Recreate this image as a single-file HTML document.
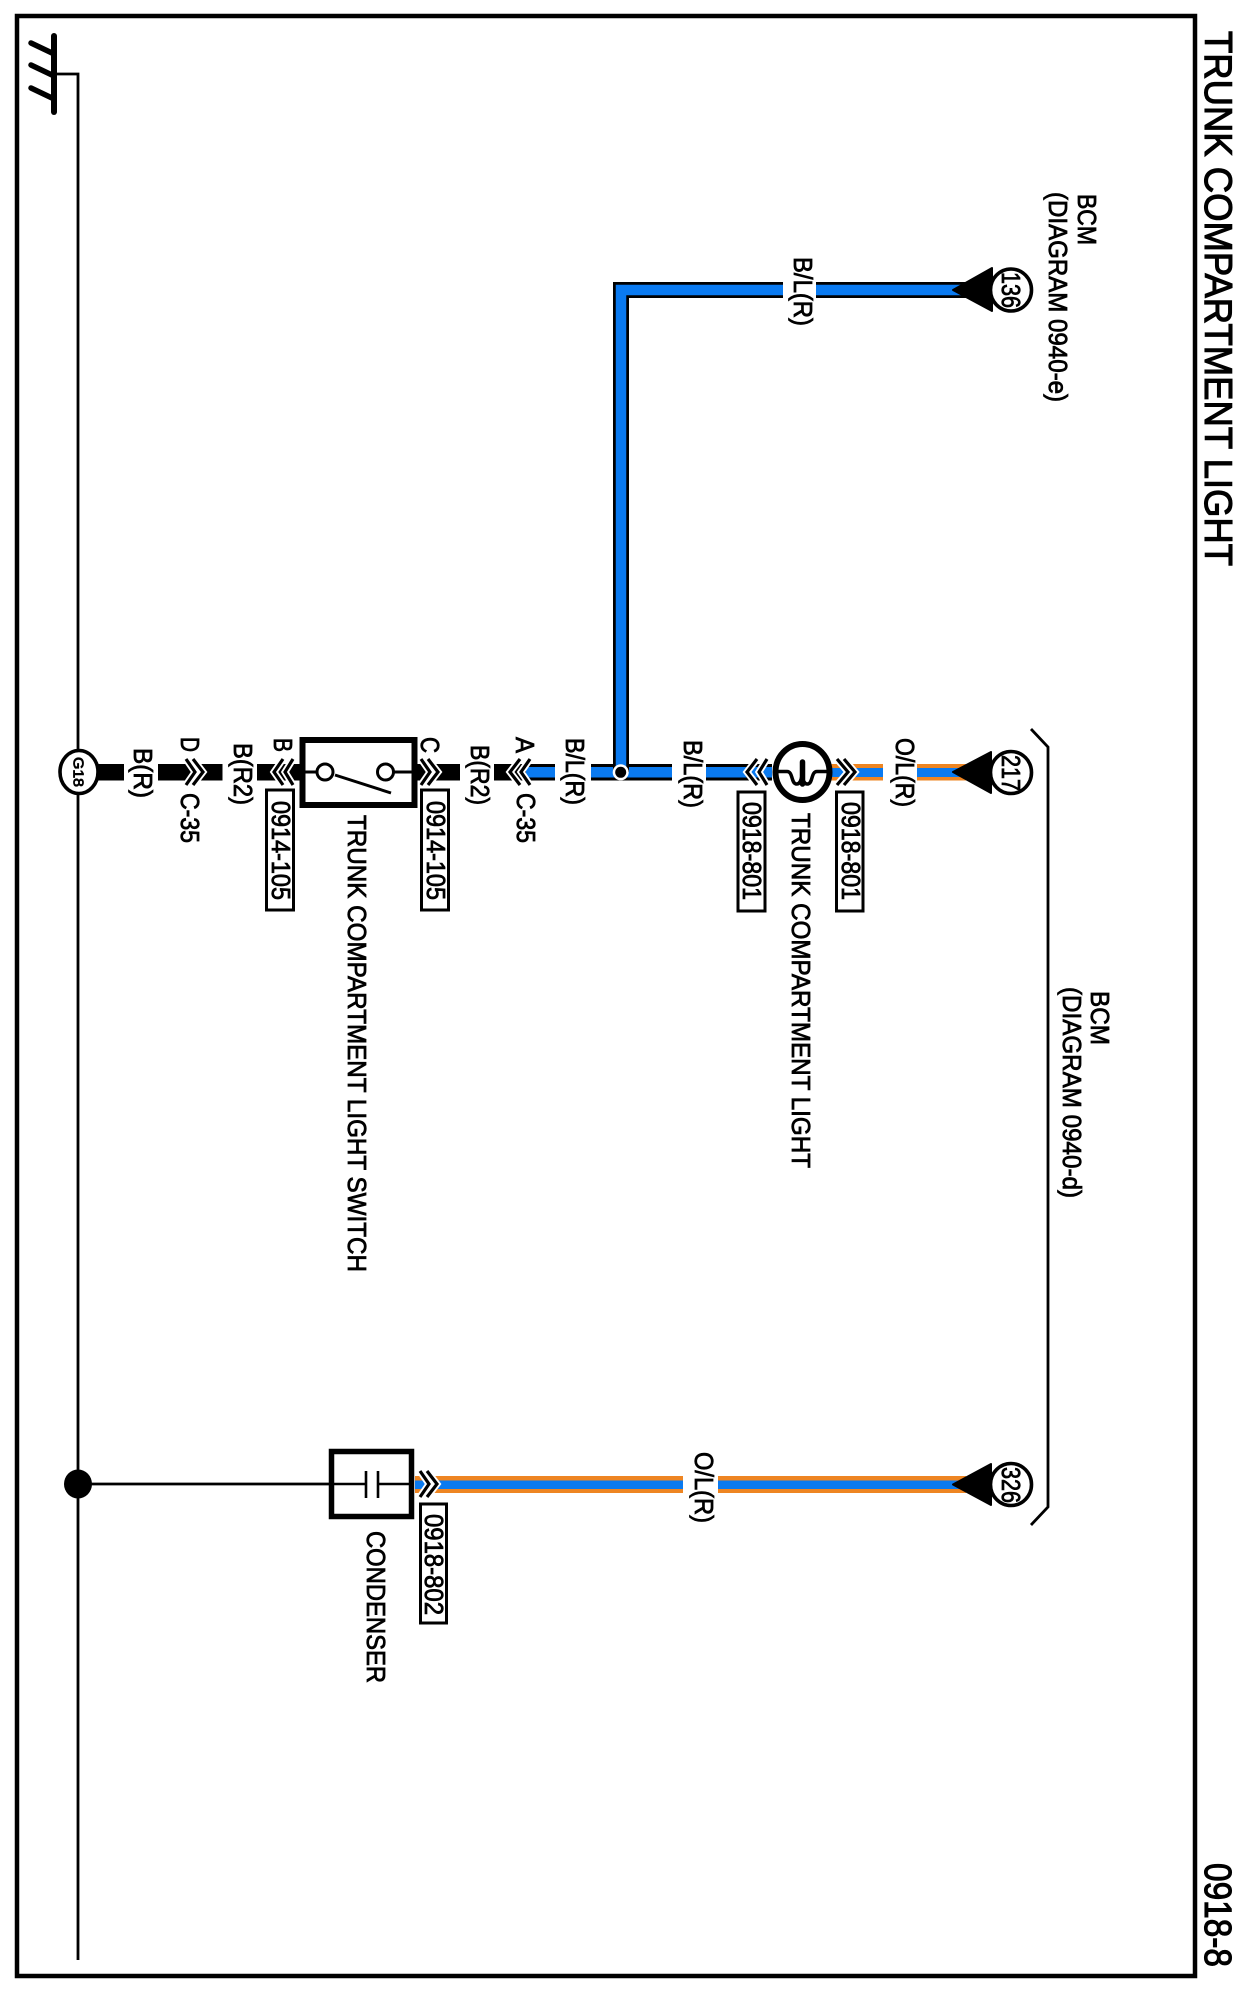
<!DOCTYPE html>
<html><head><meta charset="utf-8"><title>TRUNK COMPARTMENT LIGHT</title>
<style>html,body{margin:0;padding:0;background:#fff}svg{display:block}
text{font-family:"Liberation Sans",sans-serif;fill:#000;stroke:#000;stroke-width:.8}</style></head>
<body>
<svg width="1242" height="1998" viewBox="0 0 1242 1998" xmlns="http://www.w3.org/2000/svg">
<rect width="1242" height="1998" fill="#fff"/>
<!-- frame -->
<rect x="17" y="16" width="1178" height="1960" fill="none" stroke="#000" stroke-width="4.5"/>
<!-- ground -->
<g stroke="#000" fill="none">
<path d="M54 74H78V1960" stroke-width="2.8"/>
<path d="M54 36V112" stroke-width="6" stroke-linecap="round"/>
<path d="M31 43L52 53M31 65L52 75M31 88L52 98" stroke-width="5.5" stroke-linecap="round"/>
</g>
<!-- wires row 772 -->
<rect x="97" y="764" width="27" height="16.5"/>
<rect x="158" y="764" width="64.5" height="16.5"/>
<rect x="257" y="764" width="43" height="16.5"/>
<rect x="417" y="764" width="43" height="16.5"/>
<rect x="494" y="764" width="61" height="16.5"/>
<rect x="591" y="764" width="81" height="16.5"/>
<rect x="706" y="764" width="66" height="16.5"/>
<rect x="526" y="767" width="29" height="10.5" fill="#0a7af0"/>
<rect x="591" y="767" width="81" height="10.5" fill="#0a7af0"/>
<rect x="706" y="767" width="66" height="10.5" fill="#0a7af0"/>
<!-- orange 217 -->
<rect x="830" y="764" width="53" height="16.5" fill="#ee8522"/>
<rect x="917" y="764" width="50" height="16.5" fill="#ee8522"/>
<rect x="830" y="768" width="53" height="9" fill="#0a7af0"/>
<rect x="917" y="768" width="50" height="9" fill="#0a7af0"/>
<!-- 136 wire -->
<path d="M621 772V290H783M816 290H966" fill="none" stroke="#000" stroke-width="16"/>
<path d="M621 772V290H783M816 290H966" fill="none" stroke="#0a7af0" stroke-width="10.5"/>
<!-- junction -->
<circle cx="620.7" cy="772.3" r="8" fill="#fff"/>
<circle cx="620.7" cy="772.3" r="5.5" fill="#000"/>
<!-- condenser wire -->
<rect x="415" y="1476" width="268" height="17" fill="#ee8522"/>
<rect x="718" y="1476" width="248" height="17" fill="#ee8522"/>
<rect x="415" y="1480.5" width="268" height="8.5" fill="#0a7af0"/>
<rect x="718" y="1480.5" width="248" height="8.5" fill="#0a7af0"/>
<path d="M78 1484H329" stroke="#000" stroke-width="2.8"/>
<ellipse cx="78" cy="1484" rx="14" ry="14.5"/>
<!-- arrowheads -->
<path d="M953 290L992 268V311Z" stroke="#000" stroke-width="2" stroke-linejoin="round"/>
<path d="M953 772L991 752V793Z" stroke="#000" stroke-width="2" stroke-linejoin="round"/>
<path d="M953 1484.5L991 1464V1505Z" stroke="#000" stroke-width="2" stroke-linejoin="round"/>
<!-- terminals -->
<g fill="#fff" stroke="#000" stroke-width="3.6">
<ellipse cx="79" cy="772" rx="19" ry="21.5"/>
<ellipse cx="1011" cy="290" rx="20.5" ry="21"/>
<ellipse cx="1011" cy="772.5" rx="20.5" ry="21"/>
<ellipse cx="1011" cy="1484.5" rx="20.5" ry="21"/>
</g>
<!-- switch -->
<rect x="302.5" y="740" width="112" height="65" fill="#fff" stroke="#000" stroke-width="6"/>
<path d="M300 772H317M394 772H417" stroke="#000" stroke-width="3"/>
<g fill="#fff" stroke="#000" stroke-width="3"><circle cx="325" cy="772" r="8"/><circle cx="385.5" cy="772" r="8"/></g>
<path d="M335 775L391 793" stroke="#000" stroke-width="3"/>
<!-- lamp -->
<ellipse cx="802.5" cy="772" rx="27" ry="28" fill="#fff" stroke="#000" stroke-width="6"/>
<path d="M777 771.5H787C793 771.5 791 783 796 784C800 784.5 801 780 802 776C803 780 804 784.5 808 784C813 783 811 771.5 817 771.5H828" fill="none" stroke="#000" stroke-width="3.5"/>
<path d="M802.5 762V784" stroke="#000" stroke-width="5.5" stroke-linecap="round"/>
<!-- condenser -->
<rect x="331.5" y="1451.5" width="80" height="65" fill="#fff" stroke="#000" stroke-width="5.5"/>
<path d="M331 1484H366M378 1484H412" stroke="#000" stroke-width="2.5"/>
<path d="M366 1471V1498M378 1471V1498" stroke="#000" stroke-width="2.6"/>
<!-- bracket -->
<path d="M1031 729L1048 747V1507L1031 1525" fill="none" stroke="#000" stroke-width="2.8"/>
<!-- chevrons -->
<g fill="none" stroke="#fff" stroke-width="7">
<path d="M186 759L195 772L186 785M193 759L203 772L193 785"/>
<path d="M283 759L274 772L283 785M293 759L285 772L293 785"/>
<path d="M421 759L430 772L421 785M428 759L438 772L428 785"/>
<path d="M520 759L510 772L520 785M530 759L521 772L530 785"/>
<path d="M757 759L747 772L757 785M767 759L759 772L767 785"/>
<path d="M837 759L848 772L837 785M844 759L855 772L844 785"/>
<path d="M420 1471L429 1484L420 1497M427 1471L437 1484L427 1497"/>
</g>
<g fill="none" stroke="#000" stroke-width="3.2">
<path d="M186 759L195 772L186 785M193 759L203 772L193 785"/>
<path d="M283 759L274 772L283 785M293 759L285 772L293 785"/>
<path d="M421 759L430 772L421 785M428 759L438 772L428 785"/>
<path d="M520 759L510 772L520 785M530 759L521 772L530 785"/>
<path d="M757 759L747 772L757 785M767 759L759 772L767 785"/>
<path d="M837 759L848 772L837 785M844 759L855 772L844 785"/>
<path d="M420 1471L429 1484L420 1497M427 1471L437 1484L427 1497"/>
</g>
<!-- code boxes -->
<g fill="#fff" stroke="#000" stroke-width="3">
<rect x="266.5" y="790" width="27" height="120"/>
<rect x="421.5" y="790" width="27" height="120"/>
<rect x="738" y="792" width="27" height="119"/>
<rect x="836.5" y="792" width="26.5" height="119"/>
<rect x="420.5" y="1504" width="26" height="119"/>
</g>
<!-- text -->
<g>
<text transform="translate(1205,31) rotate(90)" font-size="39" textLength="535" lengthAdjust="spacingAndGlyphs" style="stroke-width:1.1">TRUNK COMPARTMENT LIGHT</text>
<text transform="translate(1205,1863) rotate(90)" font-size="38" textLength="104" lengthAdjust="spacingAndGlyphs" style="stroke-width:1.1">0918-8</text>
<text transform="translate(1078,194) rotate(90)" font-size="26" textLength="51" lengthAdjust="spacingAndGlyphs">BCM</text>
<text transform="translate(1049,192) rotate(90)" font-size="26" textLength="210" lengthAdjust="spacingAndGlyphs">(DIAGRAM 0940-e)</text>
<text transform="translate(1091,991) rotate(90)" font-size="26" textLength="54" lengthAdjust="spacingAndGlyphs">BCM</text>
<text transform="translate(1063,987) rotate(90)" font-size="26" textLength="211" lengthAdjust="spacingAndGlyphs">(DIAGRAM 0940-d)</text>
<text transform="translate(794,257) rotate(90)" font-size="26" textLength="69" lengthAdjust="spacingAndGlyphs">B/L(R)</text>
<text transform="translate(134,748) rotate(90)" font-size="26" textLength="50" lengthAdjust="spacingAndGlyphs">B(R)</text>
<text transform="translate(181,737) rotate(90)" font-size="26" textLength="15" lengthAdjust="spacingAndGlyphs">D</text>
<text transform="translate(181,793) rotate(90)" font-size="26" textLength="50" lengthAdjust="spacingAndGlyphs">C-35</text>
<text transform="translate(234,743) rotate(90)" font-size="26" textLength="62" lengthAdjust="spacingAndGlyphs">B(R2)</text>
<text transform="translate(274,738) rotate(90)" font-size="26" textLength="14" lengthAdjust="spacingAndGlyphs">B</text>
<text transform="translate(272,801) rotate(90)" font-size="26" textLength="99" lengthAdjust="spacingAndGlyphs">0914-105</text>
<text transform="translate(348,815) rotate(90)" font-size="26" textLength="457" lengthAdjust="spacingAndGlyphs">TRUNK COMPARTMENT LIGHT SWITCH</text>
<text transform="translate(421,737) rotate(90)" font-size="26" textLength="16" lengthAdjust="spacingAndGlyphs">C</text>
<text transform="translate(427,801) rotate(90)" font-size="26" textLength="99" lengthAdjust="spacingAndGlyphs">0914-105</text>
<text transform="translate(471,745) rotate(90)" font-size="26" textLength="60" lengthAdjust="spacingAndGlyphs">B(R2)</text>
<text transform="translate(516,737) rotate(90)" font-size="26" textLength="16" lengthAdjust="spacingAndGlyphs">A</text>
<text transform="translate(517,793) rotate(90)" font-size="26" textLength="50" lengthAdjust="spacingAndGlyphs">C-35</text>
<text transform="translate(566,738) rotate(90)" font-size="26" textLength="67" lengthAdjust="spacingAndGlyphs">B/L(R)</text>
<text transform="translate(684,740) rotate(90)" font-size="26" textLength="68" lengthAdjust="spacingAndGlyphs">B/L(R)</text>
<text transform="translate(743,802) rotate(90)" font-size="26" textLength="98" lengthAdjust="spacingAndGlyphs">0918-801</text>
<text transform="translate(792,813) rotate(90)" font-size="26" textLength="355" lengthAdjust="spacingAndGlyphs">TRUNK COMPARTMENT LIGHT</text>
<text transform="translate(842,802) rotate(90)" font-size="26" textLength="98" lengthAdjust="spacingAndGlyphs">0918-801</text>
<text transform="translate(896,738) rotate(90)" font-size="26" textLength="69" lengthAdjust="spacingAndGlyphs">O/L(R)</text>
<text transform="translate(695,1452) rotate(90)" font-size="26" textLength="71" lengthAdjust="spacingAndGlyphs">O/L(R)</text>
<text transform="translate(367,1531) rotate(90)" font-size="26" textLength="152" lengthAdjust="spacingAndGlyphs">CONDENSER</text>
<text transform="translate(425,1514) rotate(90)" font-size="26" textLength="101" lengthAdjust="spacingAndGlyphs">0918-802</text>
<text transform="translate(73.5,757) rotate(90)" font-size="15" textLength="30" lengthAdjust="spacingAndGlyphs">G18</text>
<text transform="translate(1002,272) rotate(90)" font-size="26" textLength="36" lengthAdjust="spacingAndGlyphs">136</text>
<text transform="translate(1002,755) rotate(90)" font-size="26" textLength="36" lengthAdjust="spacingAndGlyphs">217</text>
<text transform="translate(1002,1467) rotate(90)" font-size="26" textLength="36" lengthAdjust="spacingAndGlyphs">326</text>
</g>
</svg>
</body></html>
